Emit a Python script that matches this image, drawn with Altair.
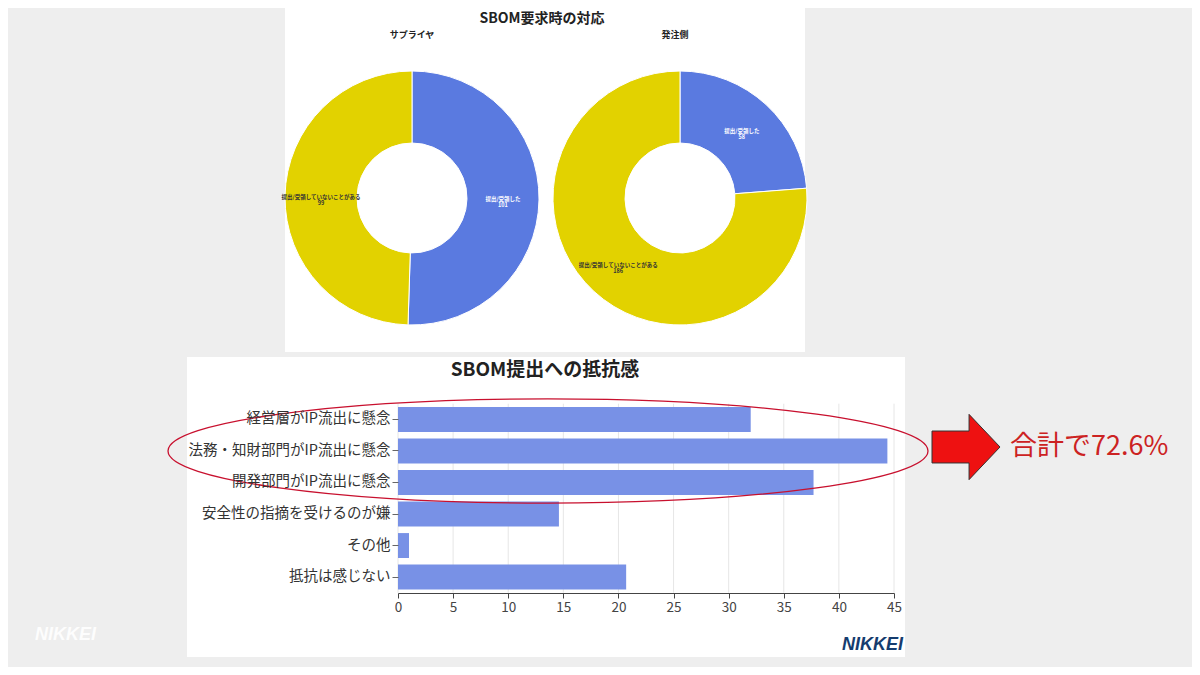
import altair as alt
import pandas as pd

# ---------------- data ----------------
pie_categories = ["提出/受領した", "提出/受領していないことがある"]
supplier_values = [101, 99]
orderer_values = [58, 186]

bar_categories = [
    "経営層がIP流出に懸念",
    "法務・知財部門がIP流出に懸念",
    "開発部門がIP流出に懸念",
    "安全性の指摘を受けるのが嫌",
    "その他",
    "抵抗は感じない",
]
bar_values = [32.0, 44.4, 37.7, 14.6, 1.0, 20.7]
x_ticks = [0, 5, 10, 15, 20, 25, 30, 35, 40, 45]

FONT = "Noto Sans CJK JP"
BLUE = "#5a7ae0"
YELLOW = "#e2d200"
BAR = "#7891e6"

one = pd.DataFrame({"k": [0]})


def pie_df(vals):
    return pd.DataFrame({
        "cat": pie_categories,
        "value": vals,
        "ord": [0, 1],
        "label": [f"{c}\n{v}" for c, v in zip(pie_categories, vals)],
    })


def pie(vals, cx, cy):
    df = pie_df(vals)
    arc = alt.Chart(df).mark_arc(innerRadius=55, outerRadius=127, stroke="white", strokeWidth=1).encode(
        theta=alt.Theta("value:Q", stack=True),
        color=alt.Color("cat:N", scale=alt.Scale(domain=pie_categories, range=[BLUE, YELLOW]), legend=None),
        order=alt.Order("ord:Q"),
        x=alt.value(cx), y=alt.value(cy),
    )
    txt = alt.Chart(df).mark_text(radius=91, fontSize=5.5, fontWeight="bold", lineBreak="\n",
                                  font=FONT, lineHeight=6).encode(
        theta=alt.Theta("value:Q", stack=True),
        detail="cat:N",
        order=alt.Order("ord:Q"),
        text="label:N",
        color=alt.condition(alt.datum.ord == 0, alt.value("white"), alt.value("#333333")),
        x=alt.value(cx), y=alt.value(cy),
    )
    return alt.layer(arc, txt)


def rect(x1, x2, y1, y2, color="white"):
    return alt.Chart(one).mark_rect(color=color).encode(
        x=alt.value(x1), x2=alt.value(x2), y=alt.value(y1), y2=alt.value(y2))


def label(text, x, y, size, weight="normal", color="#222222", align="center", style="normal", font=FONT, opacity=1):
    return alt.Chart(one).mark_text(fontSize=size, fontWeight=weight, color=color, align=align,
                                    baseline="middle", font=font, fontStyle=style, opacity=opacity).encode(
        x=alt.value(x), y=alt.value(y), text=alt.value(text))


panel_top = rect(277, 797, 0, 344)
panel_bottom = rect(179, 897, 349, 649)

title_top = label("SBOM要求時の対応", 534, 11, 14, "bold")
sub1 = label("サプライヤ", 404, 27, 9, "bold")
sub2 = label("発注側", 667, 27, 9, "bold")
title_bottom = label("SBOM提出への抵抗感", 537, 362, 19, "bold")

# ---------------- bar chart ----------------
bar_df = pd.DataFrame({"cat": bar_categories, "value": bar_values})
tick_df = pd.DataFrame({"value": x_ticks})

xscale = alt.Scale(domain=[0, 45], range=[390, 886], nice=False, zero=True)
xaxis = alt.Axis(values=x_ticks, offset=-74, grid=False, domainColor="#444444", tickColor="#444444",
                 tickSize=5, labelFontSize=13.5, labelColor="#444444", labelFont=FONT, title=None,
                 labelPadding=2, labelFlush=False, zindex=2)

grid = alt.Chart(tick_df).mark_rule(color="#e6e6e6", strokeWidth=1).encode(
    x=alt.X("value:Q", scale=xscale, axis=xaxis),
    y=alt.value(395.7), y2=alt.value(584.8),
)

bars = alt.Chart(bar_df).mark_bar(color=BAR).encode(
    x=alt.X("value:Q", scale=xscale, axis=xaxis),
    y=alt.Y("cat:N", sort=bar_categories,
            scale=alt.Scale(range=[395.7, 584.8], paddingInner=0.21, paddingOuter=0.105),
            axis=alt.Axis(offset=-390, domain=False, tickColor="#666666", tickSize=6, labelFontSize=14.5,
                          labelColor="#333333", labelFont=FONT, title=None, labelLimit=400,
                          labelPadding=2, zindex=2)),
)

# ---------------- annotations ----------------
k = 0.5523
b = 0.137
ellipse_path = (f"M -1 0 C -1 {-k*b:.4f} {-k:.4f} {-b:.4f} 0 {-b:.4f} "
                f"C {k:.4f} {-b:.4f} 1 {-k*b:.4f} 1 0 "
                f"C 1 {k*b:.4f} {k:.4f} {b:.4f} 0 {b:.4f} "
                f"C {-k:.4f} {b:.4f} -1 {k*b:.4f} -1 0 Z")
ellipse = alt.Chart(one).mark_point(shape=ellipse_path, size=760 * 760, filled=False, color="#c8102e",
                                    strokeWidth=1.3, opacity=1).encode(x=alt.value(540), y=alt.value(443))

arrow_path = "M -1 -0.47 L 0.09 -0.47 L 0.09 -0.96 L 1 0 L 0.09 0.96 L 0.09 0.47 L -1 0.47 Z"
arrow = alt.Chart(one).mark_point(shape=arrow_path, size=68 * 68, filled=True, fill="#ee1111",
                                  stroke="#333333", strokeWidth=1, opacity=1).encode(
    x=alt.value(958), y=alt.value(439))

total_text = label("合計で72.6%", 1002, 439, 27, "normal", "#cc2222", align="left")
nikkei = label("NIKKEI", 895, 637, 18, "bold", "#153c6e", align="right", style="italic",
               font="Liberation Sans")
nikkei_faint = label("NIKKEI", 27, 627, 18, "bold", "#ffffff", align="left", style="italic",
                     font="Liberation Sans", opacity=0.9)

chart = alt.layer(
    panel_top, panel_bottom, title_top, sub1, sub2, title_bottom,
    pie(supplier_values, 404, 190), pie(orderer_values, 672, 190),
    grid, bars, ellipse, arrow, total_text, nikkei, nikkei_faint,
).resolve_scale(theta="independent").properties(
    width=1184, height=659,
    autosize=alt.AutoSizeParams(type="none"),
    padding=0,
    background="#eeeeee",
).configure_view(stroke=None)

chart.save("out.html", embed_options={"renderer": "svg", "actions": False})
